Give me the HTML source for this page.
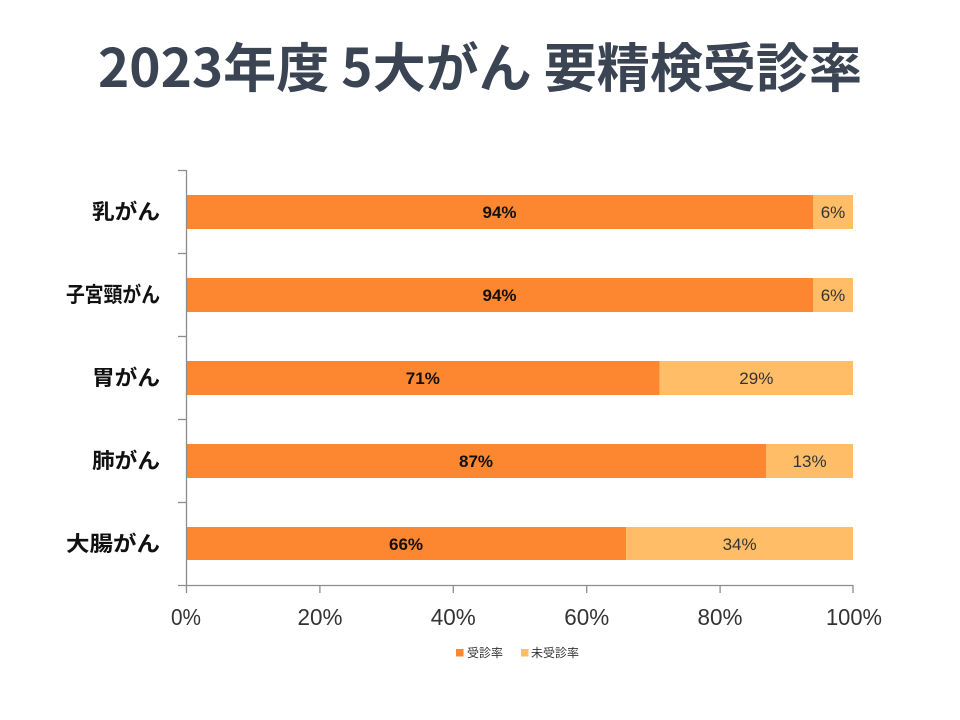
<!DOCTYPE html>
<html><head><meta charset="utf-8"><style>
html,body{margin:0;padding:0;background:#fff;}
svg{display:block;}
text{font-family:"Liberation Sans","Noto Sans CJK JP",sans-serif;}
.cjk{font-family:"Noto Sans CJK JP","Liberation Sans",sans-serif;}
</style></head><body>
<svg width="960" height="720" viewBox="0 0 960 720" xmlns="http://www.w3.org/2000/svg">
<rect width="960" height="720" fill="#fff"/>
<text class="cjk" x="98" y="87" font-size="53" font-weight="bold" fill="#3b4453" textLength="764" lengthAdjust="spacingAndGlyphs">2023年度 5大がん 要精検受診率</text>

<!-- bars -->
<g>
<rect x="186" y="195" width="627" height="34" fill="#fd8631"/>
<rect x="813" y="195" width="40" height="34" fill="#febd66"/>
<rect x="186" y="278" width="627" height="34" fill="#fd8631"/>
<rect x="813" y="278" width="40" height="34" fill="#febd66"/>
<rect x="186" y="361" width="473.6" height="34" fill="#fd8631"/>
<rect x="659.6" y="361" width="193.4" height="34" fill="#febd66"/>
<rect x="186" y="444" width="580.3" height="34" fill="#fd8631"/>
<rect x="766.3" y="444" width="86.7" height="34" fill="#febd66"/>
<rect x="186" y="527" width="440.2" height="33" fill="#fd8631"/>
<rect x="626.2" y="527" width="226.8" height="33" fill="#febd66"/>
</g>

<!-- axes -->
<g stroke="#8c8c8c" stroke-width="1.3" fill="none">
<line x1="186.5" y1="170" x2="186.5" y2="593"/>
<line x1="178" y1="585.5" x2="853" y2="585.5"/>
<line x1="178" y1="170.5" x2="186" y2="170.5"/>
<line x1="178" y1="253.5" x2="186" y2="253.5"/>
<line x1="178" y1="336.5" x2="186" y2="336.5"/>
<line x1="178" y1="419.5" x2="186" y2="419.5"/>
<line x1="178" y1="502.5" x2="186" y2="502.5"/>
<line x1="319.9" y1="585" x2="319.9" y2="593"/>
<line x1="453.3" y1="585" x2="453.3" y2="593"/>
<line x1="586.7" y1="585" x2="586.7" y2="593"/>
<line x1="720.1" y1="585" x2="720.1" y2="593"/>
<line x1="853" y1="585" x2="853" y2="593"/>
</g>

<!-- category labels -->
<g class="cjk" font-size="21" font-weight="bold" fill="#111" text-anchor="end">
<text class="cjk" x="160" y="219" textLength="68" lengthAdjust="spacingAndGlyphs">乳がん</text>
<text class="cjk" x="160" y="302" textLength="94" lengthAdjust="spacingAndGlyphs">子宮頸がん</text>
<text class="cjk" x="160" y="385" textLength="68" lengthAdjust="spacingAndGlyphs">胃がん</text>
<text class="cjk" x="160" y="468" textLength="68" lengthAdjust="spacingAndGlyphs">肺がん</text>
<text class="cjk" x="160" y="551" textLength="94" lengthAdjust="spacingAndGlyphs">大腸がん</text>
</g>

<!-- data labels -->
<g font-size="17" font-weight="bold" fill="#111" text-anchor="middle">
<text x="499.5" y="218">94%</text>
<text x="499.5" y="301">94%</text>
<text x="422.8" y="384">71%</text>
<text x="476" y="467">87%</text>
<text x="406" y="550">66%</text>
</g>
<g font-size="17" fill="#333" text-anchor="middle">
<text x="833" y="218">6%</text>
<text x="833" y="301">6%</text>
<text x="756.3" y="384">29%</text>
<text x="809.6" y="467">13%</text>
<text x="739.6" y="550">34%</text>
</g>

<!-- x tick labels -->
<g font-size="23" fill="#333" text-anchor="middle">
<text x="186" y="625" textLength="30" lengthAdjust="spacingAndGlyphs">0%</text>
<text x="320" y="625" textLength="45" lengthAdjust="spacingAndGlyphs">20%</text>
<text x="453.3" y="625" textLength="45" lengthAdjust="spacingAndGlyphs">40%</text>
<text x="586.7" y="625" textLength="45" lengthAdjust="spacingAndGlyphs">60%</text>
<text x="720" y="625" textLength="45" lengthAdjust="spacingAndGlyphs">80%</text>
<text x="854" y="625" textLength="56" lengthAdjust="spacingAndGlyphs">100%</text>
</g>

<!-- legend -->
<rect x="456" y="649" width="7.5" height="7.5" fill="#fd8631"/>
<text class="cjk" x="467" y="657" font-size="12" fill="#333">受診率</text>
<rect x="521" y="649" width="7.5" height="7.5" fill="#febd66"/>
<text class="cjk" x="531" y="657" font-size="12" fill="#333">未受診率</text>
</svg>
</body></html>
